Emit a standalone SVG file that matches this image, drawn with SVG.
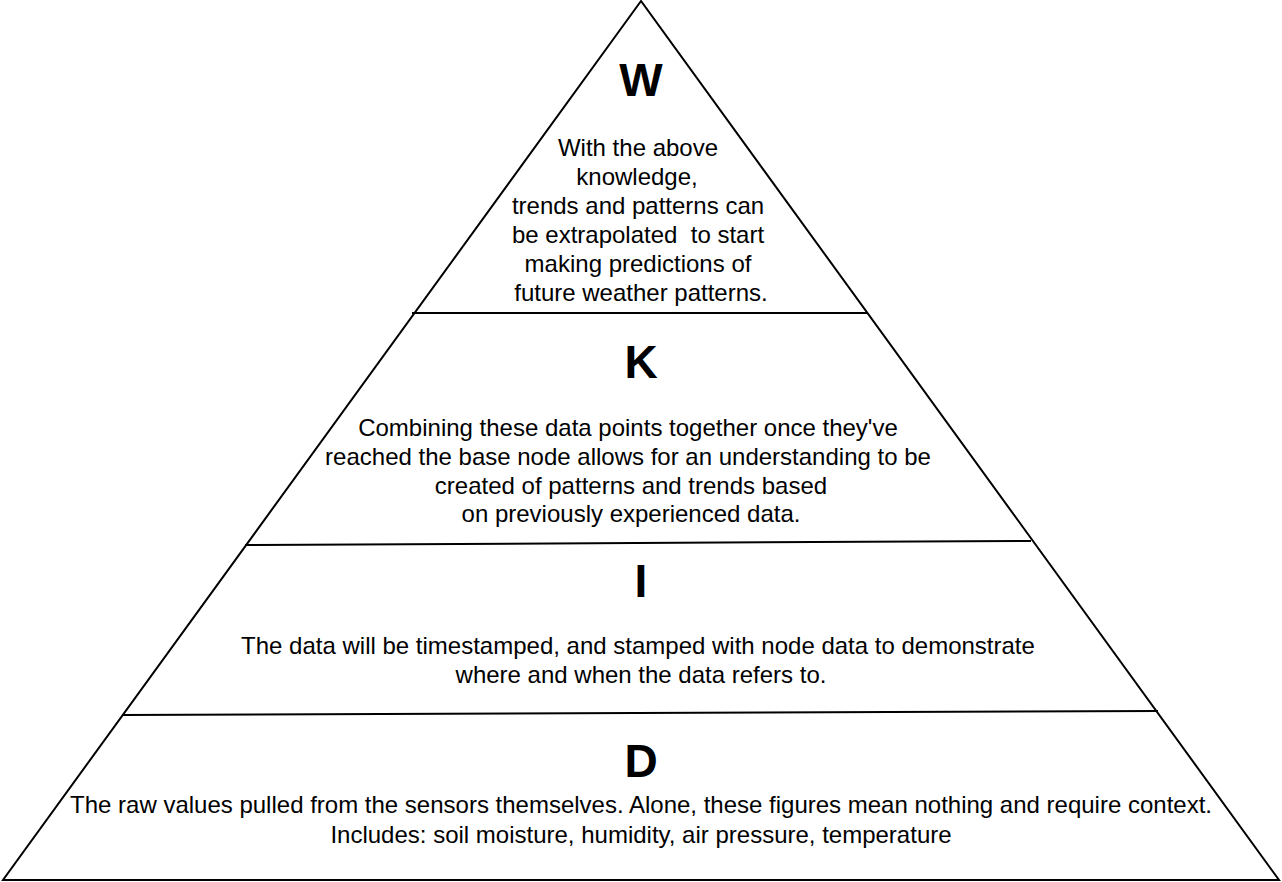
<svg xmlns="http://www.w3.org/2000/svg" width="1282" height="882" viewBox="0 0 1282 882">
<style>
.outline{fill:none;stroke:#000;stroke-width:2;stroke-linejoin:miter}
.div{stroke:#000;stroke-width:2}
.title{font-family:"Liberation Sans",Arial,sans-serif;font-weight:bold;font-size:46px;text-anchor:middle;fill:#000}
.body{font-family:"Liberation Sans",Arial,sans-serif;font-size:24px;text-anchor:middle;fill:#000}
</style>
<rect width="1282" height="882" fill="#fff"/>
<polygon id="pyramid" class="outline" points="641,1 3,880 1279,880"/>
<g id="dividers">
<line class="div" x1="412" y1="313" x2="868" y2="313"/>
<line class="div" x1="245" y1="545" x2="1031" y2="541"/>
<line class="div" x1="122" y1="715" x2="1158" y2="711"/>
</g>
<g id="layer-w">
<text class="title" x="641" y="96">W</text>
<text class="body" x="638" y="156">With the above</text>
<text class="body" x="637" y="185">knowledge,</text>
<text class="body" x="638" y="214">trends and patterns can</text>
<text class="body" x="638" y="243">be extrapolated &#160;to start</text>
<text class="body" x="638" y="272">making predictions of</text>
<text class="body" x="641" y="301">future weather patterns.</text>
</g>
<g id="layer-k">
<text class="title" x="641" y="378">K</text>
<text class="body" x="628" y="436">Combining these data points together once they've</text>
<text class="body" x="628" y="465">reached the base node allows for an understanding to be</text>
<text class="body" x="631" y="494">created of patterns and trends based</text>
<text class="body" x="631" y="522">on previously experienced data.</text>
</g>
<g id="layer-i">
<text class="title" x="641" y="597">I</text>
<text class="body" x="638" y="654">The data will be timestamped, and stamped with node data to demonstrate</text>
<text class="body" x="641" y="683">where and when the data refers to.</text>
</g>
<g id="layer-d">
<text class="title" x="641" y="777">D</text>
<text class="body" x="641" y="813">The raw values pulled from the sensors themselves. Alone, these figures mean nothing and require context.</text>
<text class="body" x="641" y="843">Includes: soil moisture, humidity, air pressure, temperature</text>
</g>
</svg>
